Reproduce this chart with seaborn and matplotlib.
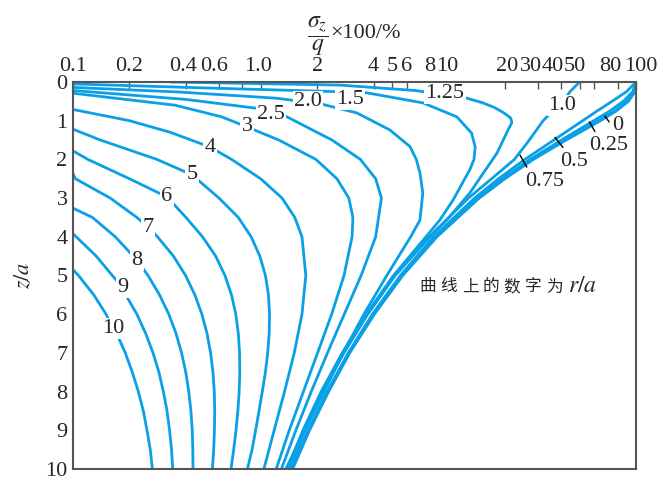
import numpy as np
import pandas as pd
import matplotlib
import matplotlib.pyplot as plt
import matplotlib.transforms as mtransforms
import seaborn as sns

matplotlib.use('Agg')

# ==========================================================
# DATA  (z/a, sigma_z/q*100 %), one pair per r/a
# ==========================================================
R_VALUES = ["0", "0.25", "0.5", "0.75", "1.0", "1.25", "1.5", "2.0", "2.5",
            "3", "4", "5", "6", "7", "8", "9", "10"]

Z_0 = [0, 0.25, 0.5, 0.75, 1, 1.5, 2, 2.5, 3, 4, 5, 6, 7, 8, 9, 10]
S_0 = [100, 98.6, 91.1, 78.4, 64.6, 42.4, 28.4, 20.0, 14.6, 8.69, 5.71, 4.03, 2.98, 2.30, 1.82, 1.48]

Z_025 = [0, 0.25, 0.5, 0.75, 1, 1.5, 2, 2.5, 3, 4, 5, 6, 7, 8, 9, 10]
S_025 = [100, 98.0, 89.6, 76.8, 63.2, 41.8, 28.1, 19.8, 14.5, 8.64, 5.69, 4.02, 2.97, 2.29, 1.81, 1.47]

Z_05 = [0, 0.25, 0.5, 0.75, 1, 1.5, 2, 2.5, 3, 4, 5, 6, 7, 8, 9, 10]
S_05 = [100, 96.0, 85.5, 72.5, 59.6, 40.0, 27.3, 19.4, 14.3, 8.55, 5.64, 3.99, 2.95, 2.28, 1.80, 1.46]

Z_075 = [0, 0.25, 0.5, 0.75, 1, 1.5, 2, 2.5, 3, 4, 5, 6, 7, 8, 9, 10]
S_075 = [100, 89.0, 74.5, 62.0, 52.0, 36.5, 25.6, 18.5, 13.8, 8.35, 5.55, 3.94, 2.93, 2.26, 1.79, 1.45]

Z_10 = [0, 0.25, 0.5, 0.75, 1, 1.5, 2, 2.5, 3, 4, 5, 6, 7, 8, 9, 10]
S_10 = [50, 44.5, 41.0, 36.0, 32.0, 27.0, 22.5, 17.0, 12.8, 7.9, 5.2, 3.72, 2.78, 2.15, 1.72, 1.43]

Z_125 = [0, 0.08, 0.22, 0.39, 0.54, 0.66, 0.78, 0.93, 1.05, 1.24, 1.83, 2.87, 3.57, 4, 5, 6, 7, 8, 9, 10]
S_125 = [0.33, 2.65, 6.64, 12.0, 15.3, 17.6, 19.5, 21.5, 21.8, 20.8, 18.2, 13.0, 9.8, 8.0, 5.2, 3.7, 2.75, 2.12, 1.70, 1.40]

Z_15 = [0.05, 0.15, 0.25, 0.28, 0.54, 0.90, 1.32, 1.68, 2.0, 2.27, 3.05, 3.57, 4, 5, 6, 7, 8, 9, 10]
S_15 = [0.1, 0.48, 2.55, 3.68, 7.33, 11.1, 13.3, 13.9, 13.7, 13.0, 10.6, 9.0, 7.6, 5.1, 3.65, 2.72, 2.10, 1.68, 1.38]

Z_20 = [0.14, 0.26, 0.42, 0.57, 0.80, 1.24, 1.67, 2.0, 2.35, 2.87, 3.57, 4, 5, 6, 7, 8, 9, 10]
S_20 = [0.1, 0.37, 1.22, 2.11, 3.26, 4.88, 6.25, 6.75, 7.06, 7.31, 7.06, 6.3, 4.7, 3.55, 2.75, 2.18, 1.72, 1.36]

Z_25 = [0.22, 0.45, 0.68, 0.90, 1.5, 2.0, 2.5, 3, 4, 5, 6, 7, 8, 9, 10]
S_25 = [0.1, 0.4, 0.955, 1.38, 2.4, 3.4, 4.1, 4.4, 4.1, 3.43, 2.79, 2.27, 1.86, 1.54, 1.29]

Z_3 = [0.29, 0.6, 0.9, 1.16, 1.5, 2, 2.5, 3, 3.5, 4, 5, 6, 7, 8, 9, 10]
S_3 = [0.1, 0.35, 0.62, 0.845, 1.25, 1.97, 2.55, 2.95, 3.1, 3.07, 2.78, 2.39, 2.01, 1.69, 1.42, 1.21]

Z_4 = [0.71, 1.0, 1.3, 1.68, 2, 2.5, 3, 3.5, 4, 5, 6, 7, 8, 9, 10]
S_4 = [0.1, 0.2, 0.33, 0.537, 0.70, 1.0, 1.30, 1.52, 1.66, 1.74, 1.66, 1.51, 1.34, 1.18, 1.04]

Z_5 = [1.22, 1.5, 2, 2.4, 3, 3.5, 4, 4.5, 5, 5.5, 6, 6.5, 7, 7.5, 8, 8.5, 9, 9.5, 10]
S_5 = [0.1, 0.14, 0.28, 0.431, 0.60, 0.76, 0.89, 0.99, 1.06, 1.10, 1.115, 1.11, 1.09, 1.06, 1.02, 0.98, 0.94, 0.90, 0.85]

Z_6 = [1.78, 2, 2.5, 2.97, 3.5, 4, 4.5, 5, 5.5, 6, 6.5, 7, 7.5, 8, 8.5, 9, 9.5, 10]
S_6 = [0.1, 0.12, 0.20, 0.317, 0.40, 0.49, 0.576, 0.645, 0.699, 0.737, 0.760, 0.772, 0.774, 0.768, 0.756, 0.739, 0.718, 0.695]

Z_7 = [2.36, 2.5, 3, 3.5, 3.75, 4, 4.5, 5, 5.5, 6, 6.5, 7, 7.5, 8, 8.5, 9, 9.5, 10]
S_7 = [0.1, 0.103, 0.158, 0.219, 0.251, 0.282, 0.343, 0.398, 0.446, 0.486, 0.518, 0.541, 0.557, 0.566, 0.569, 0.567, 0.562, 0.553]

Z_8 = [3.26, 3.5, 4, 4.6, 5, 5.5, 6, 6.5, 7, 7.5, 8, 8.5, 9, 9.5, 10]
S_8 = [0.1, 0.127, 0.168, 0.219, 0.251, 0.289, 0.324, 0.354, 0.379, 0.399, 0.414, 0.425, 0.432, 0.435, 0.436]

Z_9 = [3.92, 4, 4.5, 5, 5.32, 5.5, 6, 6.5, 7, 7.5, 8, 8.5, 9, 9.5, 10]
S_9 = [0.1, 0.104, 0.133, 0.162, 0.185, 0.191, 0.219, 0.244, 0.267, 0.287, 0.303, 0.317, 0.327, 0.335, 0.340]

Z_10R = [4.85, 5, 5.5, 6, 6.36, 6.5, 7, 7.5, 8, 8.5, 9, 9.5, 10]
S_10R = [0.1, 0.107, 0.129, 0.150, 0.163, 0.171, 0.190, 0.207, 0.223, 0.237, 0.248, 0.258, 0.265]

CURVES = [(Z_0, S_0), (Z_025, S_025), (Z_05, S_05), (Z_075, S_075), (Z_10, S_10),
          (Z_125, S_125), (Z_15, S_15), (Z_20, S_20), (Z_25, S_25), (Z_3, S_3),
          (Z_4, S_4), (Z_5, S_5), (Z_6, S_6), (Z_7, S_7), (Z_8, S_8), (Z_9, S_9),
          (Z_10R, S_10R)]

# label text, (sigma %, z/a) where the number sits on its curve
INLINE_LABELS = [("1.0", 40.5, 0.60), ("1.25", 9.6, 0.30), ("1.5", 3.0, 0.44),
                 ("2.0", 1.79, 0.50), ("2.5", 1.13, 0.85), ("3", 0.845, 1.16),
                 ("4", 0.537, 1.68), ("5", 0.431, 2.40), ("6", 0.317, 2.97),
                 ("7", 0.251, 3.75), ("8", 0.219, 4.60), ("9", 0.185, 5.32),
                 ("10", 0.163, 6.36)]
# labels set beside the bundle (left edge), with a short leader line
SIDE_LABELS = [("0", 74.3, 1.12, (68.3, 0.88), (71.9, 1.03)),
               ("0.25", 56.5, 1.65, (56.5, 1.03), (60.4, 1.28)),
               ("0.5", 39.4, 2.05, (37.0, 1.43), (40.8, 1.69)),
               ("0.75", 25.6, 2.57, (24.1, 1.89), (26.2, 2.20))]

X_TICKS = [0.1, 0.2, 0.4, 0.6, 0.8, 1, 2, 4, 5, 6, 8, 10, 20, 30, 40, 50, 60, 80, 100]
X_TICK_LABELS = ["0.1", "0.2", "0.4", "0.6", "", "1.0", "2", "4", "5", "6", "8", "10",
                 "20", "30", "40", "50", "", "80", "100"]
# small sideways nudges (px) so the crowded labels sit as in the book figure
X_LABEL_SHIFT = [0, 0, -3, -5, 0, -3, 0, 0, 0, 0, 0, -1, 2, -7, -9, -5, 0, -8, 5]
Y_TICKS = list(range(0, 11))

# ==========================================================
# PLOT
# ==========================================================
sns.set_theme(style="white")
plt.rcParams["font.family"] = ["Liberation Serif", "DejaVu Serif"]
plt.rcParams["mathtext.fontset"] = "stix"

BLUE = "#0aa0e6"
GREY = "#555555"
FS = 16

rows = []
for name, (zs, ss) in zip(R_VALUES, CURVES):
    for i, (z, s) in enumerate(zip(zs, ss)):
        rows.append({"r": name, "order": i, "z": z, "sigma": s})
df = pd.DataFrame(rows)

fig = plt.figure(figsize=(6.65, 4.83), dpi=100)
ax = fig.add_axes([73 / 665, 1 - 469 / 483, 563 / 665, 387 / 483])

sns.lineplot(data=df, x="sigma", y="z", units="r", estimator=None, sort=False,
             color=BLUE, linewidth=2.0, ax=ax, legend=False)

ax.set_xscale("log")
ax.set_xlim(0.1, 100)
ax.set_ylim(10, 0)

ax.xaxis.tick_top()
ax.set_xticks(X_TICKS)
ax.set_xticklabels([])
ax.xaxis.set_minor_locator(matplotlib.ticker.NullLocator())
ax.set_yticks(Y_TICKS)
ax.tick_params(axis="x", direction="in", length=5, width=1.0, color=GREY,
               top=True, bottom=False)
ax.tick_params(axis="y", direction="in", length=6, width=1.0, color=GREY,
               labelsize=FS, pad=4)
for lab in ax.get_yticklabels():
    lab.set_verticalalignment("center_baseline")
ax.set_xlabel("")
ax.set_ylabel("$z/a$", fontsize=FS, labelpad=8)

top_trans = mtransforms.blended_transform_factory(ax.transData, ax.transAxes)
for val, lab, dx in zip(X_TICKS, X_TICK_LABELS, X_LABEL_SHIFT):
    if not lab:
        continue
    tr = mtransforms.offset_copy(top_trans, fig=fig, x=dx, y=6, units="dots")
    ax.text(val, 1.0, lab, transform=tr, fontsize=FS, ha="center", va="bottom")

for sp in ax.spines.values():
    sp.set_color(GREY)
    sp.set_linewidth(1.5)

txt_box = dict(boxstyle="square,pad=0.05", fc="white", ec="none")
for text, s, z in INLINE_LABELS:
    ax.text(s, z, text, fontsize=FS, ha="center", va="center", bbox=txt_box, zorder=5)

for text, s, z, p0, p1 in SIDE_LABELS:
    ax.text(s, z, text, fontsize=FS, ha="left", va="center", zorder=5)
    ax.plot([p0[0], p1[0]], [p0[1], p1[1]], color="black", lw=1.0, zorder=5)

# note inside the plot, characters spaced out as in the book
note = "曲线上的数字为"
for i, ch in enumerate(note):
    fig.text((428 + 21 * i) / 665, 1 - 287 / 483, ch, fontsize=12,
             family=["Noto Sans CJK SC"], ha="center", va="center")
fig.text(583 / 665, 1 - 287 / 483, "$r/a$", fontsize=17, ha="center", va="center")

fig.text(318 / 665, 1 - 36 / 483, r"$\dfrac{\sigma_z}{q}$", fontsize=17,
         ha="center", va="center")
fig.text(330 / 665, 1 - 33 / 483, "×100/%", fontsize=16, ha="left", va="center")

fig.savefig("out.png", dpi=100)
